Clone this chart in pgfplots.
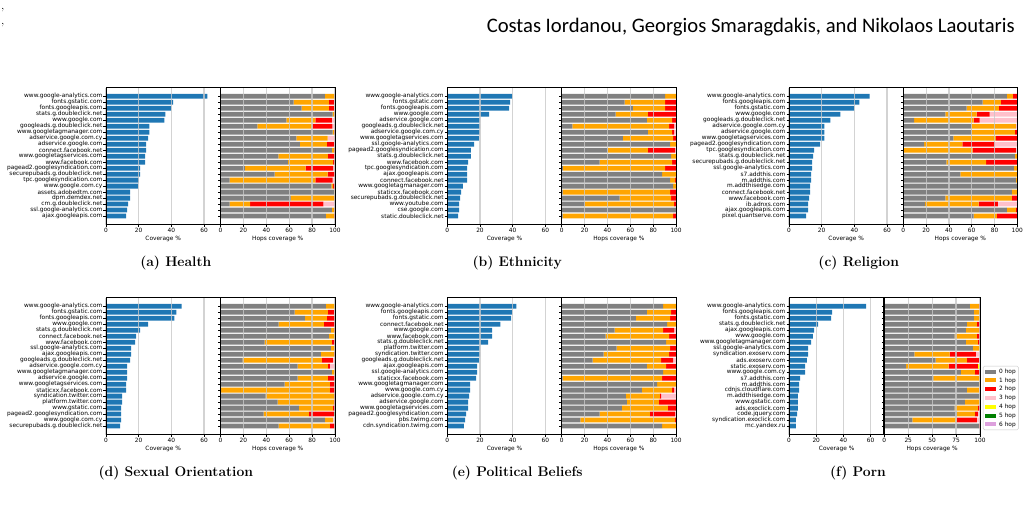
\documentclass[border=0pt]{standalone}
\usepackage{fontspec}
\usepackage{graphicx}
\usepackage{pgfplots}
\usepackage{pgfplotstable}
\pgfplotsset{compat=1.18}
\newfontfamily\dv{DejaVu Sans}
\newfontfamily\hdr{Carlito}
\definecolor{cblue}{HTML}{1F77B4}
\definecolor{h0}{HTML}{808080}
\definecolor{h1}{HTML}{FFA500}
\definecolor{h2}{HTML}{FF0000}
\definecolor{h3}{HTML}{FFC0CB}
\definecolor{h4}{HTML}{FFFF00}
\definecolor{h5}{HTML}{008000}
\definecolor{h6}{HTML}{DDA0DD}
\definecolor{gridc}{HTML}{C8C8C8}
\newcommand\tl{\dv\fontsize{5.85}{6}\selectfont}

% Health
\pgfplotstableread{
i cov h0 h1 h2 h3 h4 h5 h6
0 62.0 91.2 8.3 0.5 0 0 0 0
1 41.0 64.0 30.7 4.5 0.8 0 0 0
2 40.0 71.0 23.7 4.5 0.8 0 0 0
3 36.3 98.0 1.5 0.5 0 0 0 0
4 35.7 57.6 25.4 14.4 2.6 0 0 0
5 26.5 32.2 48.2 17.3 2.3 0 0 0
6 26.5 98.0 1.0 1.0 0 0 0 0
7 25.8 66.4 27.2 0 6.4 0 0 0
8 24.6 69.3 23.7 6.4 0.6 0 0 0
9 24.6 97.4 1.8 0.8 0 0 0 0
10 24.0 50.6 43.3 6.1 0 0 0 0
11 24.0 58.8 39.7 1.5 0 0 0 0
12 20.9 21.3 53.0 24.2 1.5 0 0 0
13 20.9 47.4 46.2 6.4 0 0 0 0
14 20.1 7.9 75.1 15.0 2.0 0 0 0
15 19.7 97.0 1.5 1.5 0 0 0 0
16 14.8 99.5 0.5 0 0 0 0 0
17 14.8 61.4 38.1 0.5 0 0 0 0
18 13.5 7.9 18.1 64.0 10.0 0 0 0
19 12.9 97.4 2.1 0.5 0 0 0 0
20 12.3 92.0 7.2 0.8 0 0 0 0
}\tabA
% Ethnicity
\pgfplotstableread{
i cov h0 h1 h2 h3 h4 h5 h6
0 39.8 90.3 9.7 0 0 0 0 0
1 38.5 55.1 35.2 9.7 0 0 0 0
2 37.9 62.2 28.1 9.7 0 0 0 0
3 25.6 47.2 28.2 24.6 0 0 0 0
4 20.1 74.5 22.0 3.5 0 0 0 0
5 20.1 9.4 84.4 4.4 1.8 0 0 0
6 20.0 75.4 21.1 1.7 1.8 0 0 0
7 19.5 53.4 44.0 2.6 0 0 0 0
8 16.4 94.7 5.3 0 0 0 0 0
9 14.5 40.2 35.2 23.7 0.9 0 0 0
10 14.5 95.6 4.4 0 0 0 0 0
11 12.7 33.1 63.4 3.5 0 0 0 0
12 12.1 1.0 89.3 9.7 0 0 0 0
13 12.1 87.7 12.3 0 0 0 0 0
14 12.1 94.7 4.4 0.9 0 0 0 0
15 9.6 97.4 2.6 0 0 0 0 0
16 8.4 0.8 93.9 5.3 0 0 0 0
17 7.8 50.7 44.9 4.4 0 0 0 0
18 7.2 20.2 78.0 1.8 0 0 0 0
19 7.2 100 0 0 0 0 0 0
20 6.6 0.8 96.6 2.6 0 0 0 0
}\tabB
% Religion
\pgfplotstableread{
i cov h0 h1 h2 h3 h4 h5 h6
0 49.3 90.9 5.3 3.8 0 0 0 0
1 43.1 69.6 15.9 14.5 0 0 0 0
2 40.0 55.5 28.3 16.2 0 0 0 0
3 31.4 36.9 27.4 11.5 24.2 0 0 0
4 25.3 9.4 52.3 5.3 33.0 0 0 0
5 21.6 59.9 38.9 0 1.2 0 0 0
6 21.6 59.9 38.0 2.1 0 0 0 0
7 21.6 44.0 37.1 18.6 0.3 0 0 0
8 19.1 18.3 33.6 28.3 19.8 0 0 0
9 15.4 0.6 60.2 38.0 1.2 0 0 0
10 14.8 97.9 2.1 0 0 0 0 0
11 14.2 37.8 34.8 27.4 0 0 0 0
12 14.2 97.0 3.0 0 0 0 0 0
13 13.6 50.1 49.9 0 0 0 0 0
14 13.6 98.8 1.2 0 0 0 0 0
15 12.9 100 0 0 0 0 0 0
16 12.9 95.3 4.7 0 0 0 0 0
17 12.3 36.9 58.4 4.7 0 0 0 0
18 11.7 19.2 46.9 16.8 17.1 0 0 0
19 11.7 90.9 7.9 1.2 0 0 0 0
20 10.5 61.7 20.3 18.0 0 0 0 0
}\tabC
% Sexual Orientation
\pgfplotstableread{
i cov h0 h1 h2 h3 h4 h5 h6
0 46.2 92.1 7.9 0 0 0 0 0
1 43.1 64.9 29.0 5.2 0.9 0 0 0
2 41.8 73.7 19.3 7.0 0 0 0 0
3 25.8 50.9 39.5 9.6 0 0 0 0
4 20.9 96.5 2.6 0.9 0 0 0 0
5 18.5 94.7 5.3 0 0 0 0 0
6 17.8 38.6 58.8 2.6 0 0 0 0
7 15.4 96.5 3.5 0 0 0 0 0
8 15.4 87.7 11.4 0.9 0 0 0 0
9 14.8 19.3 69.3 9.6 1.8 0 0 0
10 12.9 67.5 26.4 1.7 4.4 0 0 0
11 12.9 97.4 2.6 0 0 0 0 0
12 12.9 67.5 26.4 6.1 0 0 0 0
13 12.3 56.1 39.5 4.4 0 0 0 0
14 12.3 0.6 95.0 4.4 0 0 0 0
15 9.8 39.5 59.6 0.9 0 0 0 0
16 9.8 50.0 49.1 0.9 0 0 0 0
17 9.2 68.4 29.8 1.8 0 0 0 0
18 9.2 37.7 39.5 21.9 0 0 0.9 0
19 9.2 91.2 7.0 0 1.8 0 0 0
20 8.6 50.9 44.7 4.4 0 0 0 0
}\tabD
% Political Beliefs
\pgfplotstableread{
i cov h0 h1 h2 h3 h4 h5 h6
0 42.2 88.6 11.4 0 0 0 0 0
1 39.8 74.5 21.1 4.4 0 0 0 0
2 39.1 64.8 29.9 5.3 0 0 0 0
3 32.4 92.1 7.9 0 0 0 0 0
4 27.5 46.3 42.3 9.6 1.8 0 0 0
5 27.5 38.4 55.4 6.2 0 0 0 0
6 25.0 91.2 8.8 0 0 0 0 0
7 20.1 48.1 46.6 5.3 0 0 0 0
8 20.1 36.7 57.1 6.2 0 0 0 0
9 19.5 27.0 59.8 10.6 2.6 0 0 0
10 18.2 74.5 16.7 8.8 0 0 0 0
11 18.2 88.6 11.4 0 0 0 0 0
12 17.6 0.9 86.8 12.3 0 0 0 0
13 13.9 83.3 16.7 0 0 0 0 0
14 13.9 70.1 26.4 1.7 1.8 0 0 0
15 13.3 56.0 29.9 0.9 13.2 0 0 0
16 12.7 56.9 28.1 15.0 0 0 0 0
17 12.7 52.5 40.4 7.1 0 0 0 0
18 11.5 33.1 44.0 22.0 0.9 0 0 0
19 10.9 16.4 82.7 0.9 0 0 0 0
20 10.2 87.7 12.3 0 0 0 0 0
}\tabE
% Porn
\pgfplotstableread{
i cov h0 h1 h2 h3 h4 h5 h6
0 56.6 89.4 9.5 1.1 0 0 0 0
1 31.6 93.7 6.3 0 0 0 0 0
2 30.9 93.7 6.3 0 0 0 0 0
3 21.3 86.3 10.5 3.2 0 0 0 0
4 18.4 85.2 13.7 1.1 0 0 0 0
5 17.6 73.6 23.2 3.2 0 0 0 0
6 16.2 85.2 12.7 2.1 0 0 0 0
7 14.0 92.6 7.4 0 0 0 0 0
8 14.0 31.3 37.0 27.5 4.2 0 0 0
9 13.2 53.5 32.8 12.6 1.1 0 0 0
10 11.8 22.9 44.4 30.6 0 2.1 0 0
11 11.8 79.9 14.8 5.3 0 0 0 0
12 8.1 51.4 48.6 0 0 0 0 0
13 7.4 98.9 1.1 0 0 0 0 0
14 7.4 86.3 12.6 0 1.1 0 0 0
15 6.6 100 0 0 0 0 0 0
16 6.6 84.2 15.8 0 0 0 0 0
17 6.6 73.6 24.3 2.1 0 0 0 0
18 5.9 75.7 19.0 3.2 2.1 0 0 0
19 5.1 29.2 46.5 21.1 3.2 0 0 0
20 5.1 98.9 0 1.1 0 0 0 0
}\tabF

\pgfplotsset{
  base/.style={
    scale only axis, height=137pt,
    ymin=-1.44, ymax=21.44, y dir=reverse,
    xmin=0, axis on top,
    ytick={0,...,20},
    tick align=outside, major tick length=2.5pt,
    xtick pos=lower, ytick pos=left,
    tick style={black, line width=0.5pt},
    axis line style={line width=0.8pt},
    xmajorgrids, major grid style={line width=1.2pt, color=gridc, opacity=0.8},
    tick label style={font=\tl},
    /pgf/number format/assume math mode=true,
    xticklabel style={inner sep=0pt, yshift=-1pt},
    yticklabel style={inner sep=1pt},
    every axis x label/.style={at={(axis description cs:0.5,0)}, anchor=north, yshift=-11.6pt, inner sep=0pt, font=\tl},
    enlargelimits=false,
    bar width=0.8,
  },
  cov/.style={base, width=114.4pt, xmax=70, xtick={0,20,40,60}, xlabel={Coverage \%}, xbar},
  hop/.style={base, width=114.4pt, xmax=100, xtick={0,20,40,60,80,100}, yticklabels={}, xlabel={Hops coverage \%}, xbar stacked,
    after end axis/.code={\draw[line width=1.5pt, black] (rel axis cs:0,0) -- (rel axis cs:0,1);}},
  hp/.style={fill=#1, draw=none, legend image code/.code={\path[fill=#1, sharp corners] (0pt,-2pt) rectangle (10.7pt,2pt);}},
}

\newcommand\hops[1]{%
  \addplot[hp=h0] table[x=h0,y=i]{#1};
  \addplot[hp=h1] table[x=h1,y=i]{#1};
  \addplot[hp=h2] table[x=h2,y=i]{#1};
  \addplot[hp=h3] table[x=h3,y=i]{#1};
  \addplot[hp=h4] table[x=h4,y=i]{#1};
  \addplot[hp=h5] table[x=h5,y=i]{#1};
  \addplot[hp=h6] table[x=h6,y=i]{#1};
}

\begin{document}
\begin{tikzpicture}
\path[use as bounding box] (0,0) rectangle (1029pt,510pt);

% header
\node[anchor=base west, inner sep=0, font=\fontsize{12}{12}\selectfont] at (1pt,500.5pt) {,};
\node[anchor=base west, inner sep=0, font=\fontsize{12}{12}\selectfont] at (1pt,485.5pt) {,};
\node[anchor=base east, inner sep=0] at (1015pt,477pt) {\resizebox{528pt}{!}{\hdr\fontsize{17}{20}\selectfont Costas Iordanou, Georgios Smaragdakis, and Nikolaos Laoutaris}};

% ---------- (a) Health
\begin{axis}[cov, at={(106pt,422.3pt)}, anchor=north west,
  yticklabels={www.google-analytics.com,fonts.gstatic.com,fonts.googleapis.com,stats.g.doubleclick.net,www.google.com,googleads.g.doubleclick.net,www.googletagmanager.com,adservice.google.com.cy,adservice.google.com,connect.facebook.net,www.googletagservices.com,www.facebook.com,pagead2.googlesyndication.com,securepubads.g.doubleclick.net,tpc.googlesyndication.com,www.google.com.cy,assets.adobedtm.com,dpm.demdex.net,cm.g.doubleclick.net,ssl.google-analytics.com,ajax.googleapis.com}]
\addplot[fill=cblue, draw=none] table[x=cov,y=i]{\tabA};
\end{axis}
\begin{axis}[hop, at={(220.5pt,422.3pt)}, anchor=north west]
\hops{\tabA}
\end{axis}
\node[font=\bfseries\fontsize{13.9}{14}\selectfont] at (175.8pt,246.7pt) {(a) Health};

% ---------- (b) Ethnicity
\begin{axis}[cov, at={(447.3pt,422.3pt)}, anchor=north west,
  yticklabels={www.google-analytics.com,fonts.gstatic.com,fonts.googleapis.com,www.google.com,adservice.google.com,googleads.g.doubleclick.net,adservice.google.com.cy,www.googletagservices.com,ssl.google-analytics.com,pagead2.googlesyndication.com,stats.g.doubleclick.net,www.facebook.com,tpc.googlesyndication.com,ajax.googleapis.com,connect.facebook.net,www.googletagmanager.com,staticxx.facebook.com,securepubads.g.doubleclick.net,www.youtube.com,cse.google.com,static.doubleclick.net}]
\addplot[fill=cblue, draw=none] table[x=cov,y=i]{\tabB};
\end{axis}
\begin{axis}[hop, at={(561.7pt,422.3pt)}, anchor=north west]
\hops{\tabB}
\end{axis}
\node[font=\bfseries\fontsize{13.9}{14}\selectfont] at (517.2pt,246.7pt) {(b) Ethnicity};

% ---------- (c) Religion
\begin{axis}[cov, at={(789pt,422.3pt)}, anchor=north west,
  yticklabels={www.google-analytics.com,fonts.googleapis.com,fonts.gstatic.com,www.google.com,googleads.g.doubleclick.net,adservice.google.com.cy,adservice.google.com,www.googletagservices.com,pagead2.googlesyndication.com,tpc.googlesyndication.com,stats.g.doubleclick.net,securepubads.g.doubleclick.net,ssl.google-analytics.com,s7.addthis.com,m.addthis.com,m.addthisedge.com,connect.facebook.net,www.facebook.com,ib.adnxs.com,ajax.googleapis.com,pixel.quantserve.com}]
\addplot[fill=cblue, draw=none] table[x=cov,y=i]{\tabC};
\end{axis}
\begin{axis}[hop, width=114pt, at={(903.3pt,422.3pt)}, anchor=north west]
\hops{\tabC}
\end{axis}
\node[font=\bfseries\fontsize{13.9}{14}\selectfont] at (858.7pt,246.7pt) {(c) Religion};

% ---------- (d) Sexual Orientation
\begin{axis}[cov, at={(106pt,212.3pt)}, anchor=north west,
  yticklabels={www.google-analytics.com,fonts.gstatic.com,fonts.googleapis.com,www.google.com,stats.g.doubleclick.net,connect.facebook.net,www.facebook.com,ssl.google-analytics.com,ajax.googleapis.com,googleads.g.doubleclick.net,adservice.google.com.cy,www.googletagmanager.com,adservice.google.com,www.googletagservices.com,staticxx.facebook.com,syndication.twitter.com,platform.twitter.com,www.gstatic.com,pagead2.googlesyndication.com,www.google.com.cy,securepubads.g.doubleclick.net}]
\addplot[fill=cblue, draw=none] table[x=cov,y=i]{\tabD};
\end{axis}
\begin{axis}[hop, at={(220.5pt,212.3pt)}, anchor=north west]
\hops{\tabD}
\end{axis}
\node[font=\bfseries\fontsize{13.9}{14}\selectfont] at (175.8pt,36.7pt) {(d) Sexual Orientation};

% ---------- (e) Political Beliefs
\begin{axis}[cov, at={(447.3pt,212.3pt)}, anchor=north west,
  yticklabels={www.google-analytics.com,fonts.googleapis.com,fonts.gstatic.com,connect.facebook.net,www.google.com,www.facebook.com,stats.g.doubleclick.net,platform.twitter.com,syndication.twitter.com,googleads.g.doubleclick.net,ajax.googleapis.com,ssl.google-analytics.com,staticxx.facebook.com,www.googletagmanager.com,www.google.com.cy,adservice.google.com.cy,adservice.google.com,www.googletagservices.com,pagead2.googlesyndication.com,pbs.twimg.com,cdn.syndication.twimg.com}]
\addplot[fill=cblue, draw=none] table[x=cov,y=i]{\tabE};
\end{axis}
\begin{axis}[hop, at={(561.7pt,212.3pt)}, anchor=north west]
\hops{\tabE}
\end{axis}
\node[font=\bfseries\fontsize{13.9}{14}\selectfont] at (517.2pt,36.7pt) {(e) Political Beliefs};

% ---------- (f) Porn
\begin{axis}[cov, width=95.3pt, at={(789pt,212.3pt)}, anchor=north west,
  yticklabels={www.google-analytics.com,fonts.googleapis.com,fonts.gstatic.com,stats.g.doubleclick.net,ajax.googleapis.com,www.google.com,www.googletagmanager.com,ssl.google-analytics.com,syndication.exoserv.com,ads.exoserv.com,static.exoserv.com,www.google.com.cy,s7.addthis.com,m.addthis.com,cdnjs.cloudflare.com,m.addthisedge.com,www.gstatic.com,ads.exoclick.com,code.jquery.com,syndication.exoclick.com,mc.yandex.ru}]
\addplot[fill=cblue, draw=none] table[x=cov,y=i]{\tabF};
\end{axis}
\begin{axis}[hop, width=95.7pt, xtick={0,25,50,75,100}, at={(884.3pt,212.3pt)}, anchor=north west,
  after end axis/.code={\draw[line width=2.2pt, black] (rel axis cs:0,0) -- (rel axis cs:0,1);},
  legend style={at={(axis description cs:1.03,0.268)}, anchor=west, font=\tl, draw=gridc, rounded corners=1.5pt, inner sep=2.2pt, row sep=2.3pt,
    nodes={inner sep=0.6pt, text height=4.3pt, text depth=1pt, sharp corners},
    /tikz/every odd column/.append style={column sep=2.6pt}},
  legend cell align=left]
\hops{\tabF}
\legend{0 hop,1 hop,2 hop,3 hop,4 hop,5 hop,6 hop}
\end{axis}
\node[font=\bfseries\fontsize{13.9}{14}\selectfont] at (858pt,36.7pt) {(f) Porn};
\end{tikzpicture}
\end{document}
